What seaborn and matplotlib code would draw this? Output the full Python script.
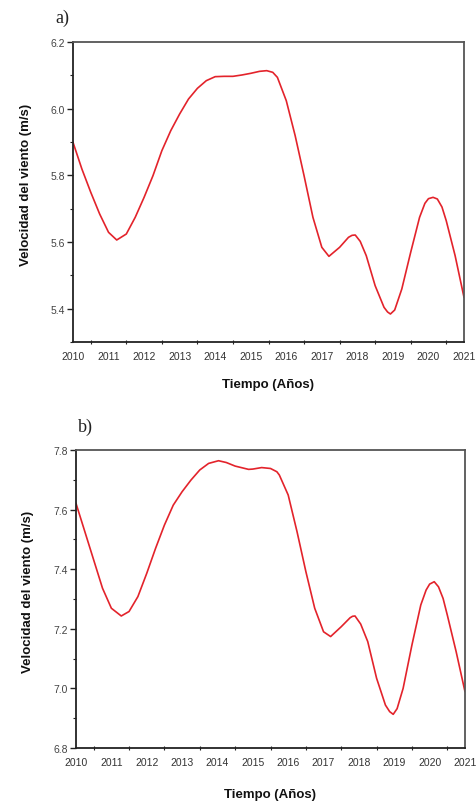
import numpy as np
import pandas as pd
import seaborn as sns
import matplotlib
matplotlib.use("Agg")
import matplotlib.pyplot as plt
from matplotlib.ticker import MultipleLocator, FormatStrFormatter

# ---- data (curve traced at ~quarter-year steps) ----
years_a = [2010.0, 2010.25, 2010.5, 2010.75, 2011.0, 2011.23, 2011.5, 2011.75, 2012.0,
           2012.25, 2012.5, 2012.75, 2013.0, 2013.25, 2013.5, 2013.75, 2014.0, 2014.25,
           2014.5, 2014.75, 2015.0, 2015.25, 2015.45, 2015.62, 2015.75, 2016.0, 2016.25,
           2016.5, 2016.75, 2017.0, 2017.2, 2017.5, 2017.75, 2017.85, 2017.94, 2018.08,
           2018.25, 2018.5, 2018.75, 2018.85, 2018.93, 2019.05, 2019.25, 2019.5, 2019.75,
           2019.9, 2020.0, 2020.13, 2020.25, 2020.38, 2020.5, 2020.75, 2021.0]
vel_a = [5.899, 5.819, 5.749, 5.684, 5.629, 5.606, 5.624, 5.674, 5.734,
         5.799, 5.874, 5.934, 5.984, 6.029, 6.061, 6.084, 6.096, 6.097,
         6.097, 6.101, 6.106, 6.112, 6.114, 6.109, 6.094, 6.024, 5.919,
         5.799, 5.674, 5.584, 5.557, 5.584, 5.614, 5.620, 5.621, 5.602,
         5.559, 5.469, 5.404, 5.390, 5.384, 5.396, 5.459, 5.569, 5.674,
         5.716, 5.730, 5.734, 5.729, 5.705, 5.664, 5.559, 5.434]

years_b = [2010.0, 2010.25, 2010.5, 2010.75, 2011.0, 2011.28, 2011.5, 2011.75, 2012.0,
           2012.25, 2012.5, 2012.75, 2013.0, 2013.25, 2013.5, 2013.75, 2014.03, 2014.25,
           2014.5, 2014.88, 2015.0, 2015.25, 2015.5, 2015.68, 2015.75, 2016.0, 2016.25,
           2016.5, 2016.75, 2017.0, 2017.2, 2017.5, 2017.75, 2017.82, 2017.89, 2018.05,
           2018.25, 2018.5, 2018.75, 2018.87, 2018.97, 2019.08, 2019.25, 2019.5, 2019.75,
           2019.9, 2020.0, 2020.13, 2020.25, 2020.38, 2020.5, 2020.75, 2021.0]
vel_b = [7.621, 7.526, 7.431, 7.336, 7.269, 7.243, 7.258, 7.308, 7.386,
         7.470, 7.548, 7.615, 7.660, 7.699, 7.733, 7.755, 7.764, 7.758,
         7.746, 7.735, 7.736, 7.741, 7.738, 7.727, 7.716, 7.649, 7.526,
         7.392, 7.269, 7.190, 7.174, 7.207, 7.237, 7.242, 7.243, 7.216,
         7.157, 7.034, 6.944, 6.922, 6.913, 6.932, 7.000, 7.146, 7.280,
         7.330, 7.350, 7.358, 7.341, 7.302, 7.246, 7.123, 6.989]

panel_labels = ["a)", "b)"]
xlabel = "Tiempo (Años)"
ylabel = "Velocidad del viento (m/s)"
xticks = list(range(2010, 2022))

sns.set_theme(style="white")
plt.rcParams['font.family'] = ['Liberation Sans', 'DejaVu Sans']

fig = plt.figure(figsize=(4.77, 8.04), dpi=100)

specs = [
    dict(rect=[73/477, 1-343/804, (464-73)/477, (343-43)/804], x=years_a, y=vel_a,
         ylim=(5.3, 6.2), yticks=[5.4, 5.6, 5.8, 6.0, 6.2], lab_xy=(55/477, 1-18/804),
         ylab_x=26/477, xlab_y=1-385/804),
    dict(rect=[76/477, 1-749/804, (465-76)/477, (749-451)/804], x=years_b, y=vel_b,
         ylim=(6.8, 7.8), yticks=[6.8, 7.0, 7.2, 7.4, 7.6, 7.8], lab_xy=(78/477, 1-427/804),
         ylab_x=28/477, xlab_y=1-795/804),
]

for i, s in enumerate(specs):
    ax = fig.add_axes(s["rect"])
    df = pd.DataFrame({"year": s["x"], "vel": s["y"]})
    sns.lineplot(data=df, x="year", y="vel", ax=ax, color="#e3232b", linewidth=1.2,
                 estimator=None, sort=True)
    ax.set_xlim(2010, 2021)
    ax.set_ylim(*s["ylim"])
    ax.set_xticks(xticks)
    ax.set_yticks(s["yticks"])
    ax.xaxis.set_minor_locator(MultipleLocator(0.5))
    ax.yaxis.set_minor_locator(MultipleLocator(0.1))
    ax.yaxis.set_major_formatter(FormatStrFormatter('%.1f'))
    ax.tick_params(axis='x', which='major', direction='inout', length=5, width=1.0,
                   labelsize=7.5, labelcolor='#333333', pad=4, color='#222222')
    ax.tick_params(axis='x', which='minor', direction='inout', length=3, width=0.8,
                   color='#222222', bottom=True)
    ax.tick_params(axis='y', which='major', direction='out', length=4, width=1.0,
                   labelsize=7.5, labelcolor='#444444', pad=2, color='#222222', left=True)
    ax.tick_params(axis='y', which='minor', direction='out', length=2, width=0.8,
                   color='#222222', left=True)
    for side, sp in ax.spines.items():
        sp.set_visible(True)
        sp.set_linewidth(1.3)
        sp.set_color('#222222' if side in ('left', 'bottom') else '#555555')
    ax.set_xlabel("")
    ax.set_ylabel("")
    fig.text(s["rect"][0] + s["rect"][2] / 2, s["xlab_y"], xlabel, ha='center', va='center',
             fontsize=9.5, fontweight='bold', color='#111111')
    fig.text(s["ylab_x"], s["rect"][1] + s["rect"][3] / 2 + 0.01, ylabel, ha='center',
             va='center', rotation=90, fontsize=9.5, fontweight='bold', color='#111111')
    fig.text(s["lab_xy"][0], s["lab_xy"][1], panel_labels[i], ha='left', va='center',
             fontsize=13, family=['Liberation Serif', 'DejaVu Serif'], color='#222222')

fig.savefig("out.png", dpi=100, facecolor='white')
